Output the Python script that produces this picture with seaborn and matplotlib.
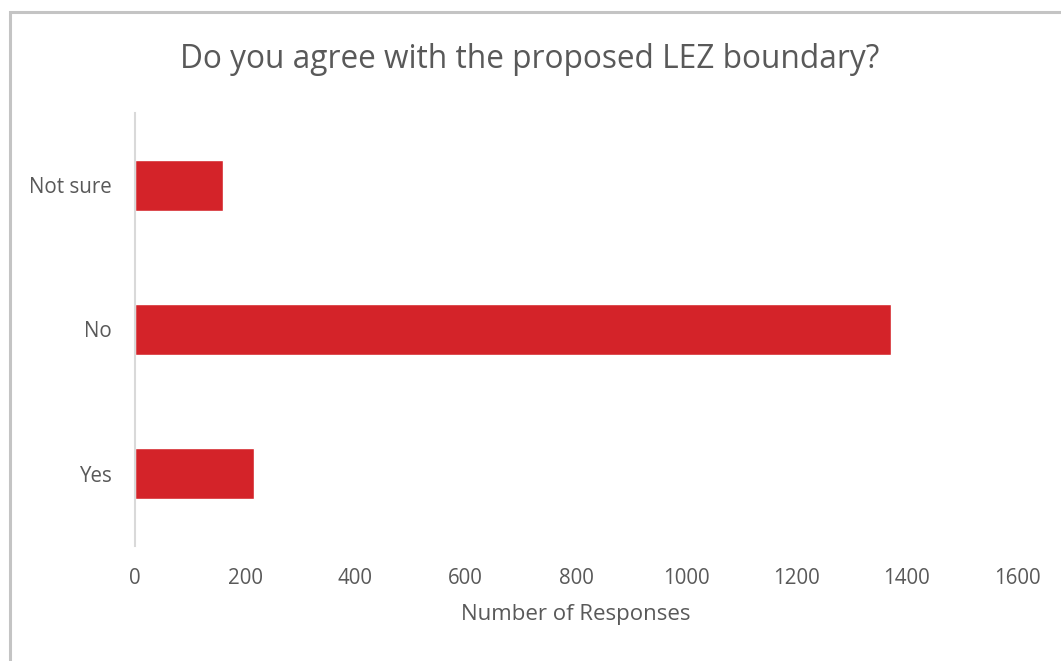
import matplotlib
matplotlib.use("Agg")
import matplotlib.pyplot as plt
import seaborn as sns
import pandas as pd
from matplotlib.patches import Rectangle

categories = ["Not sure", "No", "Yes"]
responses = [159, 1371, 216]
x_ticks = [0, 200, 400, 600, 800, 1000, 1200, 1400, 1600]

sns.set_theme(style="white")
plt.rcParams['font.family'] = ['Open Sans', 'DejaVu Sans']

W, H = 1061, 661
fig = plt.figure(figsize=(W / 100, H / 100), dpi=100)
ax = fig.add_axes([135 / W, (H - 545.7) / H, (1017 - 135) / W, (545.7 - 113) / H])

df = pd.DataFrame({"category": categories, "responses": responses})
sns.barplot(data=df, x="responses", y="category", order=categories,
            color="#D42329", saturation=1, width=0.354, ax=ax, orient="h")

text_color = "#595959"
ax.set_xlim(0, 1600)
ax.set_ylim(2.5, -0.5)
ax.set_xticks(x_ticks)
ax.set_xticklabels([str(t) for t in x_ticks])
for s in ["top", "right", "bottom"]:
    ax.spines[s].set_visible(False)
ax.spines["left"].set_color("#D9D9D9")
ax.spines["left"].set_linewidth(1.5)
ax.tick_params(axis="both", length=0, labelsize=14.8, colors=text_color)
ax.tick_params(axis="y", pad=17)
ax.tick_params(axis="x", pad=16)
ax.set_ylabel("")
ax.set_xlabel("Number of Responses", fontsize=16, color=text_color, labelpad=11)

fig.text(530 / W, (H - 59) / H, "Do you agree with the proposed LEZ boundary?",
         ha="center", va="center", fontsize=22.8, color=text_color)

border = Rectangle((9.5 / W, -0.2), 1.5, (H - 11.5) / H + 0.2, transform=fig.transFigure,
                   fill=False, edgecolor="#C4C4C4", linewidth=2.2)
fig.add_artist(border)

fig.savefig("out.png", dpi=100, facecolor="white")
